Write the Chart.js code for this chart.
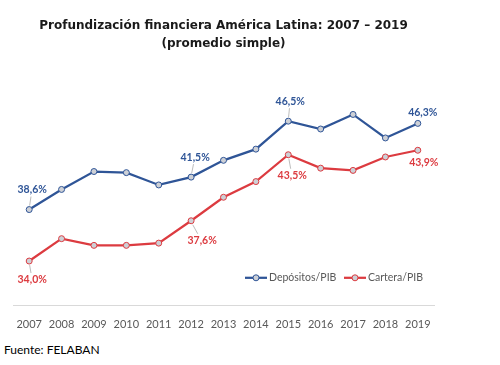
<!DOCTYPE html>
<html>
<head>
<meta charset="utf-8">
<script src="https://cdn.jsdelivr.net/npm/chart.js@4.4.1/dist/chart.umd.min.js"></script>
<style>
  body { margin: 0; background: #fff; width: 500px; height: 365px; position: relative; overflow: hidden; }
  #wrap { position: absolute; left: 0; top: 0; width: 450px; height: 335px; }
  #fuente { position: absolute; left: 4px; top: 342px; font: 12px Lato, sans-serif; color: #000; }
</style>
</head>
<body>
<div id="wrap"><canvas id="chart"></canvas></div>
<div id="fuente">Fuente: FELABAN</div>
<script>
const years = ['2007', '2008', '2009', '2010', '2011', '2012', '2013', '2014', '2015', '2016', '2017', '2018', '2019'];
const depositos = [38.6, 40.4, 42.0, 41.9, 40.8, 41.5, 43.0, 44.0, 46.5, 45.8, 47.1, 45.0, 46.3];
const cartera = [34.0, 36.0, 35.4, 35.4, 35.6, 37.6, 39.7, 41.1, 43.5, 42.3, 42.1, 43.3, 43.9];
const seriesNames = ['Depósitos/PIB', 'Cartera/PIB'];
const titleLines = ['Profundización financiera América Latina: 2007 – 2019', '(promedio simple)'];

const BLUE = '#2f5597';
const RED = '#dc3b40';

// which points get a label, and where the label sits relative to the point
const labelSpots = [
    [{ i: 0, dx: 3, dy: -20 }, { i: 5, dx: 4, dy: -20 }, { i: 8, dx: 2, dy: -20 }, { i: 12, dx: 5, dy: -11 }],
    [{ i: 0, dx: 3, dy: 19 }, { i: 5, dx: 11, dy: 20 }, { i: 8, dx: 4, dy: 21 }, { i: 12, dx: 6, dy: 12 }]
];

const fmt = v => v.toFixed(1).replace('.', ',') + '%';

const pointLabels = {
    id: 'pointLabels',
    afterDatasetsDraw(chart) {
        const ctx = chart.ctx;
        ctx.save();
        ctx.font = 'bold 10.5px Lato, sans-serif';
        ctx.textAlign = 'center';
        ctx.textBaseline = 'middle';
        chart.data.datasets.forEach((ds, d) => {
            const meta = chart.getDatasetMeta(d);
            labelSpots[d].forEach(s => {
                const p = meta.data[s.i];
                const lx = p.x + s.dx, ly = p.y + s.dy;
                if (Math.abs(s.dy) > 14) {
                    const dir = Math.sign(s.dy);
                    ctx.strokeStyle = '#a6a6a6';
                    ctx.lineWidth = 0.75;
                    ctx.beginPath();
                    ctx.moveTo(p.x + s.dx * 0.15, p.y + dir * 4);
                    ctx.lineTo(lx - s.dx * 0.4, ly - dir * 7);
                    ctx.stroke();
                }
                ctx.fillStyle = ds.borderColor;
                ctx.fillText(fmt(ds.data[s.i]), lx, ly);
            });
        });
        ctx.restore();
    }
};

const innerLegend = {
    id: 'innerLegend',
    afterDraw(chart) {
        const ctx = chart.ctx;
        const y = chart.chartArea.bottom - 28;
        const xs = [245, 344];
        ctx.save();
        ctx.font = '10.5px Lato, sans-serif';
        ctx.textBaseline = 'middle';
        chart.data.datasets.forEach((ds, d) => {
            const x = xs[d];
            ctx.strokeStyle = ds.borderColor;
            ctx.lineWidth = 2.25;
            ctx.beginPath();
            ctx.moveTo(x, y);
            ctx.lineTo(x + 22, y);
            ctx.stroke();
            ctx.beginPath();
            ctx.arc(x + 11, y, 3, 0, Math.PI * 2);
            ctx.fillStyle = '#cdd0d6';
            ctx.fill();
            ctx.lineWidth = 1;
            ctx.stroke();
            ctx.fillStyle = '#595959';
            ctx.fillText(ds.label, x + 24, y);
        });
        ctx.restore();
    }
};

function serie(label, values, color) {
    return {
        label: label,
        data: values,
        borderColor: color,
        borderWidth: 2.25,
        pointRadius: 3,
        pointBorderWidth: 1,
        pointBackgroundColor: '#cdd0d6',
        pointBorderColor: color,
        tension: 0
    };
}

new Chart(document.getElementById('chart'), {
    type: 'line',
    data: {
        labels: years,
        datasets: [
            serie(seriesNames[0], depositos, BLUE),
            serie(seriesNames[1], cartera, RED)
        ]
    },
    options: {
        responsive: true,
        maintainAspectRatio: false,
        animation: false,
        layout: { padding: { left: 13, right: 16, bottom: 0 } },
        plugins: {
            legend: { display: false },
            tooltip: { enabled: false },
            title: {
                display: true,
                text: titleLines,
                color: '#1a1a1a',
                font: { family: 'DejaVu Sans', weight: 'bold', size: 12, lineHeight: 1.5 },
                padding: { top: 17, bottom: 29 }
            }
        },
        scales: {
            x: {
                offset: true,
                grid: { display: false },
                border: { display: true, color: '#d9d9d9' },
                ticks: {
                    color: '#595959',
                    font: { family: 'Lato', size: 11 },
                    padding: 4,
                    maxRotation: 0,
                    autoSkip: false
                }
            },
            y: { display: false, min: 30, max: 50 }
        }
    },
    plugins: [pointLabels, innerLegend]
});
</script>
</body>
</html>
